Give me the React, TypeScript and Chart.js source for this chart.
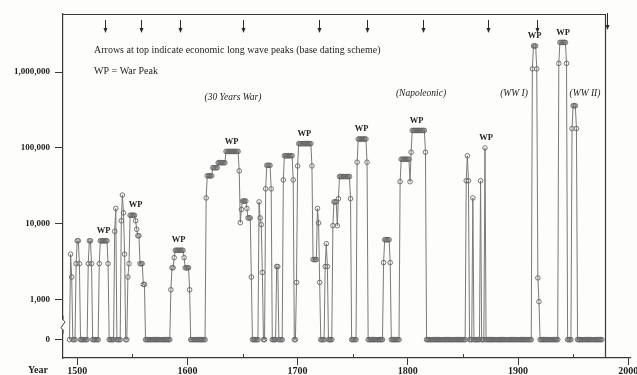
import React, { useEffect, useRef } from 'react';
import { Chart, registerables } from 'chart.js';

Chart.register(...registerables);

// ---------------- data ----------------
const FIRST_YEAR = 1493;
const LAST_YEAR = 1976;
const ZERO_LEVEL = 300; // the "0" row sits below the axis break

const warStartYears = [
  1494, 1499, 1510, 1520, 1534, 1540, 1546, 1585, 1617, 1665, 1671, 1681, 1687,
  1699, 1725, 1732, 1754, 1778, 1793, 1853, 1859, 1866, 1870, 1913, 1937, 1949,
];

const warYearlyDeaths = [
  [4000, 2000],
  [3000, 6000, 6000, 3000],
  [3000, 6000, 6000, 3000],
  [3000, 6000, 6000, 6000, 6000, 6000, 6000, 6000, 3000],
  [8000, 16000],
  [11000, 24000, 14000, 4000],
  [2000, 3000, 13000, 13000, 13000, 13000, 13000, 11000, 8500, 7000, 7000, 3000, 3000, 3000, 1600, 1600],
  [1360, 2650, 2650, 3600, 4500, 4500, 4500, 4500, 4500, 4500, 4500, 4500, 3600, 2650, 2650, 2650, 2650, 1360],
  [
    22000, 43000, 43000, 43000, 43000, 43000, 55000, 55000, 55000, 55000, 55000,
    64000, 64000, 64000, 64000, 64000, 64000, 64000,
    90000, 90000, 90000, 90000, 90000, 90000, 90000, 90000, 90000, 90000, 90000, 90000,
    50000, 10400, 15500, 20000, 20000, 20000, 20000, 16000, 12000, 12000, 12000, 2000,
  ],
  [19500, 12000, 9800, 2300],
  [29000, 59000, 59000, 59000, 59000, 29000],
  [2750, 2750],
  [38000, 79000, 79000, 79000, 79000, 79000, 79000, 79000, 79000, 38000],
  [
    1700, 58000, 114000, 114000, 114000, 114000, 114000, 114000, 114000, 114000, 114000,
    114000, 114000, 114000, 58000, 3400, 3400, 3400, 3400, 16000, 10300, 1700,
  ],
  [2750, 5500, 2750],
  [9500, 19500, 19500, 19500, 9500, 21500, 42000, 42000, 42000, 42000, 42000, 42000, 42000, 42000, 42000, 42000, 21500],
  [65000, 131000, 131000, 131000, 131000, 131000, 131000, 131000, 131000, 65000],
  [3100, 6200, 6200, 6200, 6200, 6200, 3100],
  [
    36000, 71000, 71000, 71000, 71000, 71000, 71000, 71000, 71000, 36000, 88000,
    170000, 170000, 170000, 170000, 170000, 170000, 170000, 170000, 170000, 170000, 170000, 170000, 88000,
  ],
  [37000, 79000, 37000],
  [22000],
  [37000],
  [100000],
  [1100000, 2200000, 2200000, 2200000, 1100000, 1950, 950],
  [1300000, 2450000, 2450000, 2450000, 2450000, 2450000, 2450000, 1300000],
  [180000, 360000, 360000, 360000, 180000],
];

const yTickValues = [ZERO_LEVEL, 1000, 10000, 100000, 1000000];
const yTickLabels = ['0', '1,000', '10,000', '100,000', '1,000,000'];
const xTickValues = [1500, 1600, 1700, 1800, 1900, 2000];
const xMinorTickValues = [1550, 1650, 1750, 1850, 1950];

const longWavePeakYears = [1525, 1558, 1593, 1650, 1719, 1763, 1814, 1873, 1917, 1981];
const warPeakYears = [1524, 1553, 1592, 1640, 1706, 1758, 1808, 1871, 1915, 1941];
const warPeakValues = [6000, 13000, 4500, 90000, 114000, 131000, 170000, 100000, 2200000, 2450000];

const warNames = ['(30 Years War)', '(Napoleonic)', '(WW I)', '(WW II)'];

// build yearly table (years without a great-power war are 0)
const deathsByYear = new Map<number, number>();
warStartYears.forEach((start, i) => {
  warYearlyDeaths[i].forEach((v, j) => deathsByYear.set(start + j, v));
});
const yearlyPoints: { x: number; y: number }[] = [];
for (let yr = FIRST_YEAR; yr <= LAST_YEAR; yr++) {
  yearlyPoints.push({ x: yr, y: deathsByYear.has(yr) ? (deathsByYear.get(yr) as number) : ZERO_LEVEL });
}

// ---------------- drawing helpers ----------------
const SERIF = "'Liberation Serif', 'DejaVu Serif', serif";
const INK = '#1e1e1e';
const FRAME = '#3a3a3a';
const FRAME_END_YEAR = 1978.5;

const decorPlugin = {
  id: 'decor',
  beforeDraw(chart: any) {
    const { ctx, width, height } = chart;
    ctx.save();
    ctx.fillStyle = '#fdfdfb';
    ctx.fillRect(0, 0, width, height);
    ctx.restore();
  },
  afterDraw(chart: any) {
    const { ctx, chartArea: a, scales } = chart;
    const xs = scales.x;
    const ys = scales.y;
    ctx.save();

    // top and right frame lines
    const rx = Math.round(xs.getPixelForValue(FRAME_END_YEAR)) + 0.5;
    ctx.strokeStyle = FRAME;
    ctx.lineWidth = 1.2;
    ctx.beginPath();
    ctx.moveTo(a.left, a.top + 0.5);
    ctx.lineTo(rx, a.top + 0.5);
    ctx.lineTo(rx, a.bottom);
    ctx.stroke();

    // minor x ticks (upward)
    ctx.lineWidth = 1;
    ctx.beginPath();
    xMinorTickValues.forEach((v) => {
      const px = Math.round(xs.getPixelForValue(v)) + 0.5;
      ctx.moveTo(px, a.bottom);
      ctx.lineTo(px, a.bottom - 4);
    });
    ctx.stroke();

    // axis break between 0 and 1,000
    const yb = (ys.getPixelForValue(ZERO_LEVEL) + ys.getPixelForValue(1000)) / 2 + 5;
    ctx.fillStyle = '#fdfdfb';
    ctx.fillRect(a.left - 3, yb - 5, 6, 10);
    ctx.strokeStyle = FRAME;
    ctx.lineWidth = 1;
    ctx.beginPath();
    ctx.moveTo(a.left, yb - 9);
    ctx.lineTo(a.left, yb - 5);
    ctx.lineTo(a.left + 2, yb - 3);
    ctx.lineTo(a.left - 2, yb + 3);
    ctx.lineTo(a.left, yb + 5);
    ctx.lineTo(a.left, yb + 9);
    ctx.stroke();

    // long wave peak arrows
    ctx.strokeStyle = '#2a2a2a';
    ctx.fillStyle = '#2a2a2a';
    longWavePeakYears.forEach((yr, i) => {
      const px = Math.round(xs.getPixelForValue(yr)) + 0.5;
      const last = i === longWavePeakYears.length - 1;
      const y0 = last ? a.top - 1 : a.top + 6;
      const y1 = last ? a.top + 16 : a.top + 19;
      ctx.lineWidth = 1;
      ctx.beginPath();
      ctx.moveTo(px, y0);
      ctx.lineTo(px, y1 - 3);
      ctx.stroke();
      ctx.beginPath();
      ctx.moveTo(px - 2, y1 - 5);
      ctx.lineTo(px + 2, y1 - 5);
      ctx.lineTo(px, y1);
      ctx.closePath();
      ctx.fill();
    });

    // WP labels above each war peak
    ctx.fillStyle = INK;
    ctx.font = `bold 8.5px ${SERIF}`;
    ctx.textAlign = 'center';
    ctx.textBaseline = 'middle';
    warPeakYears.forEach((yr, i) => {
      ctx.fillText('WP', xs.getPixelForValue(yr), ys.getPixelForValue(warPeakValues[i]) - 10);
    });

    // explanatory notes
    ctx.textAlign = 'left';
    ctx.font = `10px ${SERIF}`;
    ctx.fillText('Arrows at top indicate economic long wave peaks (base dating scheme)', a.left + 31, 50);
    ctx.fillText('WP = War Peak', a.left + 31, 71);

    // war names (italic)
    ctx.textAlign = 'center';
    ctx.font = `italic 9.5px ${SERIF}`;
    const nameX = [233, 421, 514, 585];
    const nameY = [97, 93, 93, 93];
    warNames.forEach((t, i) => ctx.fillText(t, nameX[i], nameY[i]));

    // "Year" label
    ctx.textAlign = 'right';
    ctx.font = `bold 10px ${SERIF}`;
    ctx.fillText('Year', 48, 370);

    ctx.restore();
  },
};

export default function App() {
  const ref = useRef<HTMLCanvasElement>(null);

  useEffect(() => {
    if (!ref.current) return;
    const chart = new Chart(ref.current, {
      type: 'line',
      data: {
        datasets: [
          {
            data: yearlyPoints,
            borderColor: '#7a7a7a',
            borderWidth: 1,
            pointRadius: 2.3,
            pointBorderWidth: 0.9,
            pointBorderColor: '#666',
            pointBackgroundColor: 'rgba(255,255,255,0)',
            tension: 0,
          },
        ],
      },
      options: {
        responsive: false,
        devicePixelRatio: 1,
        animation: false,
        parsing: false as any,
        layout: { padding: { top: 14, right: 7, left: 0, bottom: 0 } },
        plugins: { legend: { display: false }, tooltip: { enabled: false } },
        scales: {
          x: {
            type: 'linear',
            min: 1487.1,
            max: 2001.6,
            afterBuildTicks: (s: any) => {
              s.ticks = xTickValues.map((v) => ({ value: v }));
            },
            afterFit: (s: any) => {
              s.height = 17;
              s.paddingLeft = 0;
              s.paddingRight = 0;
            },
            ticks: {
              autoSkip: false,
              maxRotation: 0,
              padding: 0,
              color: INK,
              font: { family: SERIF, size: 10, weight: 'bold' },
              callback: (v: any) => String(v),
            },
            grid: { drawOnChartArea: false, drawTicks: true, tickLength: 7, color: FRAME, lineWidth: 1 },
            border: { display: true, color: FRAME, width: 1.2 },
          },
          y: {
            type: 'logarithmic',
            min: 172,
            max: 5.8e6,
            afterBuildTicks: (s: any) => {
              s.ticks = yTickValues.map((v) => ({ value: v }));
            },
            afterFit: (s: any) => {
              s.width = 63;
              s.paddingTop = 0;
              s.paddingBottom = 0;
            },
            ticks: {
              autoSkip: false,
              padding: 5,
              color: INK,
              font: { family: SERIF, size: 9, weight: 'bold' },
              callback: (_v: any, i: number) => yTickLabels[i],
            },
            grid: { drawOnChartArea: false, drawTicks: true, tickLength: 8, color: FRAME, lineWidth: 1 },
            border: { display: true, color: FRAME, width: 1.2 },
          },
        },
      } as any,
      plugins: [decorPlugin],
    });
    return () => chart.destroy();
  }, []);

  return (
    <div style={{ position: 'fixed', left: 0, top: 0, width: 637, height: 375, background: '#fdfdfb' }}>
      <canvas ref={ref} width={637} height={375} style={{ display: 'block', width: 637, height: 375 }} />
    </div>
  );
}
